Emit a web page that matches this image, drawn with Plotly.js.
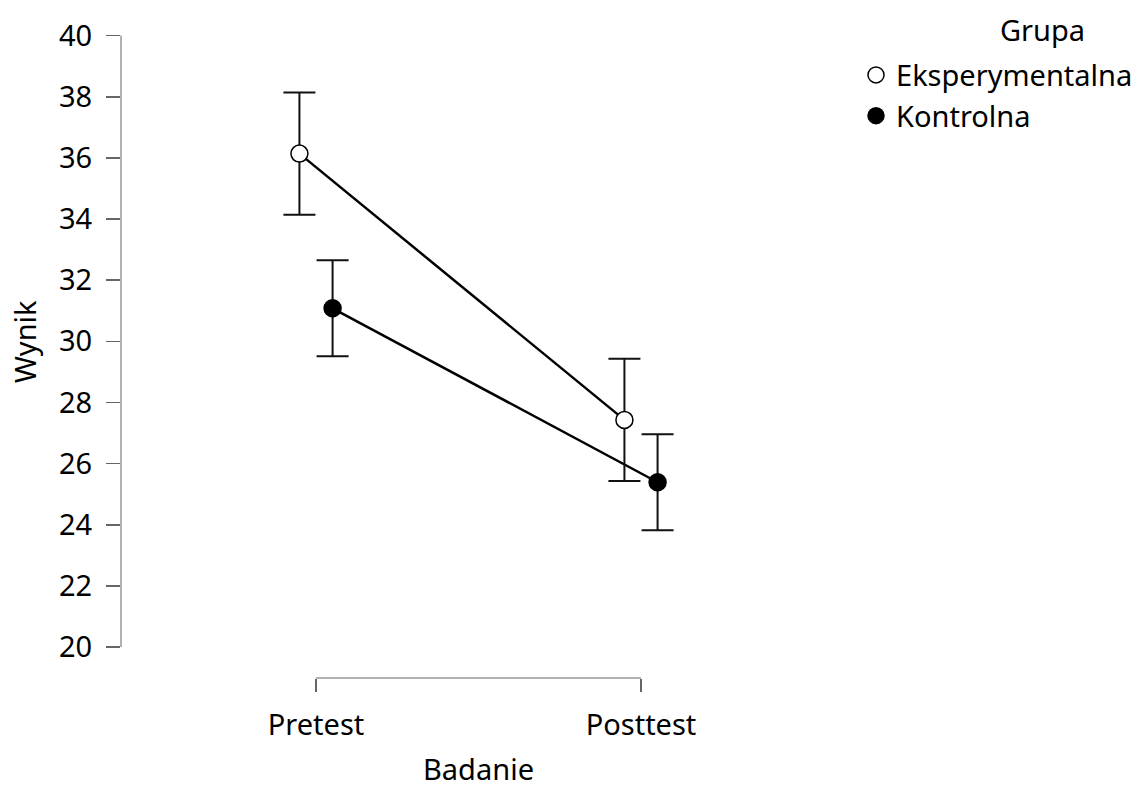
<!DOCTYPE html>
<html><head><meta charset="utf-8">
<script src="https://cdn.plot.ly/plotly-3.0.1.min.js"></script>
<style>html,body{margin:0;padding:0;background:#fff}#chart{width:1145px;height:787px}</style>
</head><body><div id="chart"></div>
<script>
const categories = ['Pretest', 'Posttest'];
const groups = ['Eksperymentalna', 'Kontrolna'];
const expMean = [36.14, 27.43];
const expErr = [2.0, 2.0];
const ctrlMean = [31.08, 25.39];
const ctrlErr = [1.57, 1.57];
const yTicks = [20, 22, 24, 26, 28, 30, 32, 34, 36, 38, 40];

const FONT = 'Noto Sans, DejaVu Sans, sans-serif';
const FS = 29;
const dodge = 0.051;
const catPos = categories.map((c, i) => i + 1);
const xExp = catPos.map(p => p - dodge);
const xCtrl = catPos.map(p => p + dodge);

const lineStyle = {color: '#000', width: 2.5};
const errStyle = (arr) => ({type: 'data', array: arr, visible: true, color: '#111', thickness: 2, width: 16});

const traces = [
  {x: xExp, y: expMean, mode: 'lines', line: lineStyle, showlegend: false, hoverinfo: 'skip'},
  {x: xCtrl, y: ctrlMean, mode: 'lines', line: lineStyle, showlegend: false, hoverinfo: 'skip'},
  {x: xExp, y: expMean, name: groups[0], mode: 'markers', error_y: errStyle(expErr),
   marker: {size: 17, color: '#fff', line: {color: '#000', width: 1.5}}},
  {x: xCtrl, y: ctrlMean, name: groups[1], mode: 'markers', error_y: errStyle(ctrlErr),
   marker: {size: 17, color: '#000', line: {color: '#000', width: 1.5}}}
];

const layout = {
  width: 1145, height: 787,
  margin: {l: 121, r: 374, t: 35, b: 109, pad: 0, autoexpand: false},
  paper_bgcolor: '#fff', plot_bgcolor: '#fff',
  font: {family: FONT, size: FS, color: '#000'},
  showlegend: true,
  legend: {xref: 'container', x: 0.7476, xanchor: 'left', yref: 'container', y: 0.937, yanchor: 'top',
           font: {family: FONT, size: FS, color: '#000'}, bgcolor: 'rgba(0,0,0,0)', tracegroupgap: 0},
  xaxis: {range: [0.4, 2.4], showgrid: false, zeroline: false, showline: false,
          tickvals: catPos, ticktext: categories, ticks: 'outside', ticklen: 13, tickwidth: 1.5, tickcolor: '#666',
          ticklabelstandoff: 8, tickfont: {family: FONT, size: FS, color: '#000'}, fixedrange: true},
  yaxis: {range: [18.987, 40.02], showgrid: false, zeroline: false, showline: false,
          tickvals: yTicks, ticktext: yTicks.map(String), ticks: 'outside', ticklen: 14, tickwidth: 1.5, tickcolor: '#666',
          ticklabelstandoff: 8, tickfont: {family: FONT, size: FS, color: '#000'}, fixedrange: true},
  shapes: [
    {type: 'line', xref: 'paper', x0: 0, x1: 0, yref: 'y', y0: yTicks[0], y1: yTicks[yTicks.length - 1], line: {color: '#999', width: 1.5}},
    {type: 'line', xref: 'x', x0: catPos[0], x1: catPos[catPos.length - 1], yref: 'paper', y0: 0, y1: 0, line: {color: '#999', width: 1.5}}
  ],
  annotations: [
    {text: 'Wynik', xref: 'paper', x: -0.148, yref: 'y', y: 30, textangle: -90, showarrow: false, font: {family: FONT, size: FS}, xanchor: 'center', yanchor: 'middle'},
    {text: 'Badanie', xref: 'x', x: 1.5, yref: 'paper', y: -0.140, showarrow: false, font: {family: FONT, size: FS}, xanchor: 'center', yanchor: 'middle'},
    {text: 'Grupa', xref: 'paper', x: 1.418, yref: 'paper', y: 1.009, showarrow: false, font: {family: FONT, size: FS}, xanchor: 'center', yanchor: 'middle'}
  ]
};

Plotly.newPlot('chart', traces, layout, {displayModeBar: false, staticPlot: true});
</script></body></html>
